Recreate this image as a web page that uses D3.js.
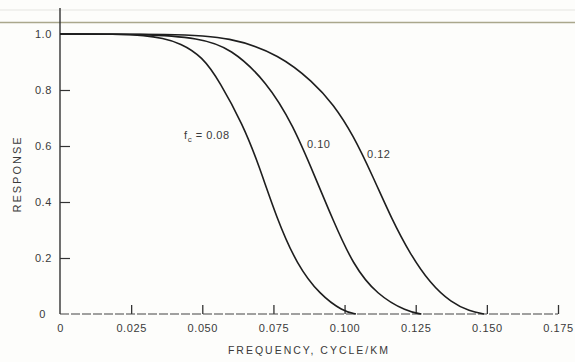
<!DOCTYPE html>
<html>
<head>
<meta charset="utf-8">
<script src="https://cdn.jsdelivr.net/npm/d3@7"></script>
<style>
  body { margin: 0; background: #fdfdfb; }
  svg { display: block; font-family: "Liberation Sans", "DejaVu Sans", sans-serif; }
  .tick text { fill: #3a3a3a; font-size: 11px; letter-spacing: 0.6px; }
</style>
</head>
<body>
<svg width="575" height="362"></svg>
<script>
const svg = d3.select('svg');
const width = +svg.attr('width');
const height = +svg.attr('height');

// [frequency (cycle/km), response]
const curve008 = [
  [0, 1.0], [0.02, 1.0], [0.03, 0.995], [0.036, 0.985], [0.0422, 0.968],
  [0.05, 0.92], [0.0562, 0.829], [0.0643, 0.675], [0.0696, 0.54],
  [0.0762, 0.34], [0.0833, 0.175], [0.0914, 0.068], [0.0994, 0.01], [0.104, 0]
];
const curve010 = [
  [0, 1.0], [0.03, 1.0], [0.049, 0.986], [0.06, 0.95], [0.0727, 0.829],
  [0.0819, 0.675], [0.0896, 0.49], [0.0959, 0.336], [0.103, 0.175],
  [0.1114, 0.068], [0.122, 0.008], [0.127, 0]
];
const curve012 = [
  [0, 1.0], [0.04, 1.0], [0.06, 0.99], [0.0773, 0.925], [0.0889, 0.829],
  [0.096, 0.75], [0.103, 0.64], [0.110, 0.49], [0.1167, 0.336],
  [0.123, 0.215], [0.130, 0.11], [0.1375, 0.04], [0.144, 0.01], [0.149, 0]
];
const cutoffs = ['0.08', '0.10', '0.12'];
const xTicks = [0, 0.025, 0.05, 0.075, 0.1, 0.125, 0.15, 0.175];
const xTickLabels = ['0', '0.025', '0.050', '0.075', '0.100', '0.125', '0.150', '0.175'];
const yTicks = [0, 0.2, 0.4, 0.6, 0.8, 1.0];
const yTickLabels = ['0', '0.2', '0.4', '0.6', '0.8', '1.0'];

const x = d3.scaleLinear().domain([0, 0.175]).range([60, 558]);
const y = d3.scaleLinear().domain([0, 1]).range([314, 34]);

// scan artefacts: page rule across the top
svg.append('line')
  .attr('x1', 0).attr('x2', width).attr('y1', 10).attr('y2', 10)
  .attr('stroke', '#ececea').attr('stroke-width', 1.5);
svg.append('line')
  .attr('x1', 0).attr('x2', width).attr('y1', 22.5).attr('y2', 22.5)
  .attr('stroke', '#aaa78c').attr('stroke-width', 1.5);

// x axis, ticks pointing up
const gx = svg.append('g')
  .attr('transform', `translate(0,${y(0)})`)
  .call(d3.axisBottom(x)
    .tickValues(xTicks)
    .tickFormat((d, i) => xTickLabels[i])
    .tickSizeInner(-9).tickSizeOuter(0).tickPadding(10));
gx.select('.domain').remove();
gx.selectAll('.tick line').attr('stroke', '#333').attr('stroke-width', 1.3)
  .filter(d => d === 0).remove();

svg.append('line')
  .attr('x1', x(0)).attr('x2', x(0.175))
  .attr('y1', y(0)).attr('y2', y(0))
  .attr('stroke', '#444').attr('stroke-width', 1.2)
  .attr('stroke-dasharray', '9 2');

// y axis, ticks pointing right
const gy = svg.append('g')
  .attr('transform', `translate(${x(0)},0)`)
  .call(d3.axisLeft(y)
    .tickValues(yTicks)
    .tickFormat((d, i) => yTickLabels[i])
    .tickSizeInner(-10).tickSizeOuter(0).tickPadding(8));
gy.select('.domain').remove();
gy.selectAll('.tick line').attr('stroke', '#333').attr('stroke-width', 1.2)
  .filter(d => d === 0 || d === 1).remove();
gy.selectAll('.tick text').filter(d => d === 0).attr('x', -14);

svg.append('line')
  .attr('x1', x(0)).attr('x2', x(0))
  .attr('y1', y(0)).attr('y2', y(1.093))
  .attr('stroke', '#333').attr('stroke-width', 1.4);

// response curves
const line = d3.line()
  .x(d => x(d[0]))
  .y(d => y(d[1]))
  .curve(d3.curveBasis);

svg.selectAll('path.curve')
  .data([curve008, curve010, curve012])
  .enter().append('path')
  .attr('class', 'curve')
  .attr('d', line)
  .attr('fill', 'none')
  .attr('stroke', '#1e1e1e')
  .attr('stroke-width', 1.6);

// curve labels (anchor in data units)
const labelAt = [[0.0436, 0.625], [0.0868, 0.592], [0.1079, 0.556]];
const labels = svg.selectAll('text.clabel')
  .data(cutoffs)
  .enter().append('text')
  .attr('class', 'clabel')
  .attr('x', (d, i) => x(labelAt[i][0]))
  .attr('y', (d, i) => y(labelAt[i][1]))
  .attr('fill', '#3a3a3a')
  .attr('font-size', 11)
  .attr('letter-spacing', 0.5);
labels.each(function (d, i) {
  const t = d3.select(this);
  if (i === 0) {
    t.append('tspan').text('f');
    t.append('tspan').attr('font-size', 8).attr('dy', 3).text('c');
    t.append('tspan').attr('dy', -3).text(' = ' + d);
  } else {
    t.text(d);
  }
});

// axis titles
svg.append('text')
  .attr('transform', `translate(21,${y(0.5)}) rotate(-90)`)
  .attr('text-anchor', 'middle')
  .attr('fill', '#3a3a3a')
  .attr('font-size', 11)
  .attr('letter-spacing', 2)
  .text('RESPONSE');

svg.append('text')
  .attr('x', x(0.0875))
  .attr('y', 354)
  .attr('text-anchor', 'middle')
  .attr('fill', '#3a3a3a')
  .attr('font-size', 10.5)
  .attr('letter-spacing', 2)
  .text('FREQUENCY, CYCLE/KM');
</script>
</body>
</html>
